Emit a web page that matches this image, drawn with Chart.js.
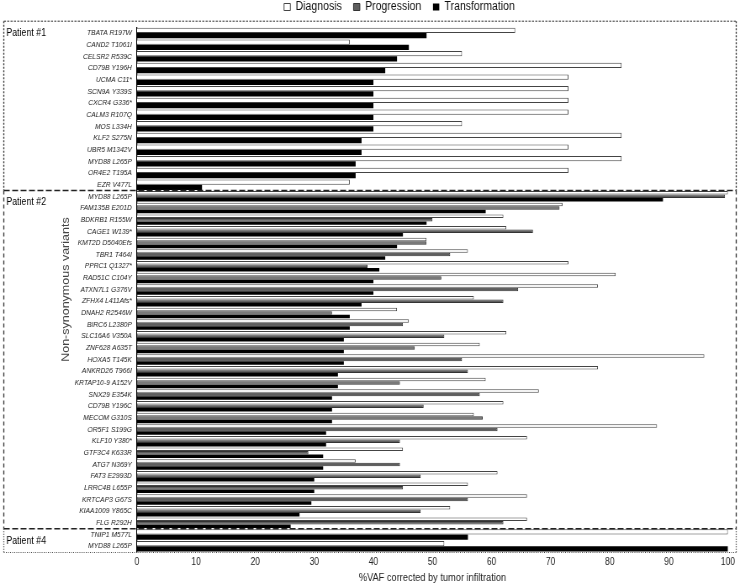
<!DOCTYPE html>
<html><head><meta charset="utf-8">
<script src="https://cdn.jsdelivr.net/npm/chart.js@4/dist/chart.umd.min.js"></script>
<style>html,body{margin:0;padding:0;background:#fff;overflow:hidden}#c{display:block;width:740px;height:588px}</style>
</head><body><canvas id="c" width="880" height="588" style="width:740px;height:588px"></canvas>
<script>
const variants = [
  'TBATA R197W','CAND2 T1061I','CELSR2 R539C','CD79B Y196H','UCMA C11*','SCN9A Y339S','CXCR4 G336*','CALM3 R107Q','MOS L334H','KLF2 S275N','UBR5 M1342V','MYD88 L265P','OR4E2 T195A','EZR V477L',
  'MYD88 L265P','FAM135B E201D','BDKRB1 R155W','CAGE1 W139*','KMT2D D5040Efs','TBR1 T464I','PPRC1 Q1327*','RAD51C C104Y','ATXN7L1 G376V','ZFHX4 L411Afs*','DNAH2 R2546W','BIRC6 L2380P','SLC16A6 V350A','ZNF628 A635T','HOXA5 T145K','ANKRD26 T966I','KRTAP10-9 A152V','SNX29 E354K','CD79B Y196C','MECOM G310S','OR5F1 S199G','KLF10 Y380*','GTF3C4 K633R','ATG7 N369Y','FAT3 E2993D','LRRC4B L655P','KRTCAP3 G67S','KIAA1009 Y865C','FLG R292H',
  'TNIP1 M577L','MYD88 L265P'
];
const patients = ['Patient #1','Patient #2','Patient #4'];
const patientFirstRow = [0, 14, 43];
const patientLastRow = [13, 42, 44];
const diagnosis = [
  64, 36, 55, 82, 73, 73, 73, 73, 55, 82, 73, 82, 73, 36,
  100, 72, 62, 62.5, 49, 56, 73, 81, 78, 57, 44, 46, 62.5, 58, 96, 78, 59, 68, 62, 57, 88, 66, 45, 37, 61, 56, 66, 53, 66,
  100, 52
];
const progression = [
  null, null, null, null, null, null, null, null, null, null, null, null, null, null,
  99.5, 71.5, 50, 67, 49, 53, 39, 51.5, 64.5, 62, 33, 45, 52, 47, 55, 56, 44.5, 58, 48.5, 58.5, 61, 44.5, 29, 44.5, 48, 45, 56, 48, 62,
  null, null
];
const transformation = [
  49, 46, 44, 42, 40, 40, 40, 40, 40, 38, 38, 37, 37, 11,
  89, 59, 49, 45, 44, 42, 41, 40, 40, 38, 36, 36, 35, 35, 35, 34, 34, 33, 33, 33, 32, 32, 31.5, 31.5, 30, 30, 29.5, 27.5, 26,
  56, 100
];
const xTicks = [0, 10, 20, 30, 40, 50, 60, 70, 80, 90, 100];

const SANS = "'Liberation Sans', Arial, sans-serif";

const legendShift = {
  id: 'legendShift',
  afterLayout(chart) {
    const lg = chart.legend;
    if (lg) { lg.left = 84; lg.right = 866; }
  }
};

const patientBoxes = {
  id: 'patientBoxes',
  afterDraw(chart) {
    const ctx = chart.ctx, y = chart.scales.y;
    const h = y.getPixelForValue(1) - y.getPixelForValue(0);
    const L = 4.5, R = 875.5;
    const tops = [], bots = [];
    for (let i = 0; i < patients.length; i++) {
      tops.push(i === 0 ? y.getPixelForValue(patientFirstRow[i]) - h / 2 - 6 : (y.getPixelForValue(patientFirstRow[i]) + y.getPixelForValue(patientFirstRow[i] - 1)) / 2);
      bots.push(i === patients.length - 1 ? y.getPixelForValue(patientLastRow[i]) + h / 2 + 0.5 : (y.getPixelForValue(patientLastRow[i]) + y.getPixelForValue(patientLastRow[i] + 1)) / 2);
    }
    ctx.save();
    const line = (x1, y1, x2, y2, dash, w, col) => {
      ctx.beginPath(); ctx.setLineDash(dash); ctx.lineWidth = w; ctx.strokeStyle = col;
      ctx.moveTo(x1, y1); ctx.lineTo(x2, y2); ctx.stroke();
    };
    line(L, tops[0], R, tops[0], [2.5, 1.5], 1, '#333');
    line(L, tops[0], L, bots[0], [2, 1.5], 1.3, '#333');
    line(R, tops[0], R, bots[0], [2, 1.5], 1.3, '#333');
    line(L, tops[1], L, bots[1], [4, 3], 1.3, '#333');
    line(R, tops[1], R, bots[1], [4, 3], 1.3, '#333');
    line(L, bots[0], R, bots[0], [7, 3], 1.5, '#222');
    line(L, bots[1], R, bots[1], [7, 3], 1.5, '#222');
    line(L, tops[2], L, bots[2], [1, 1.5], 1.3, '#444');
    line(R, tops[2], R, bots[2], [1, 1.5], 1.3, '#444');
    line(L, bots[2], R, bots[2], [1, 1.5], 1, '#444');
    ctx.setLineDash([]);
    ctx.fillStyle = '#000';
    ctx.font = '10.5px ' + SANS;
    ctx.textBaseline = 'middle';
    ctx.textAlign = 'left';
    for (let i = 0; i < patients.length; i++) ctx.fillText(patients[i], 7.5, tops[i] + 12);
    ctx.restore();
  }
};

new Chart(document.getElementById('c'), {
  type: 'bar',
  data: {
    labels: variants,
    datasets: [
      { label: 'Diagnosis', data: diagnosis, backgroundColor: '#ffffff', borderColor: '#444', borderWidth: 1, skipNull: true, categoryPercentage: 0.9, barPercentage: 1.0, xAxisID: 'x', yAxisID: 'y' },
      { label: 'Progression', data: progression, backgroundColor: '#5e5e5e', borderColor: '#333', borderWidth: 1, skipNull: true, categoryPercentage: 0.9, barPercentage: 1.0, xAxisID: 'x', yAxisID: 'y' },
      { label: 'Transformation', data: transformation, backgroundColor: '#000', borderColor: '#000', borderWidth: 0, skipNull: true, categoryPercentage: 0.9, barPercentage: 1.0, xAxisID: 'x', yAxisID: 'y' }
    ]
  },
  options: {
    indexAxis: 'y',
    responsive: false,
    devicePixelRatio: 1,
    animation: false,
    layout: { padding: { top: -13.25, left: 67, right: 14.3, bottom: 0 } },
    plugins: {
      tooltip: { enabled: false },
      legend: {
        position: 'top',
        labels: { boxWidth: 7.5, boxHeight: 7, padding: 14, color: '#111', font: { family: SANS, size: 12.5 } }
      }
    },
    scales: {
      x: {
        type: 'linear', position: 'bottom', min: 0, max: 100,
        afterBuildTicks: s => { s.ticks = xTicks.map(v => ({ value: v })); },
        ticks: { color: '#222', font: { family: SANS, size: 10 }, padding: 4 },
        grid: { display: false, drawTicks: false },
        border: { display: false },
        title: { display: true, text: '%VAF corrected by tumor infiltration', color: '#222', font: { family: SANS, size: 11 }, padding: { top: 2, bottom: 3 } },
        afterFit: s => { s.height = 36; }
      },
      xTop: {
        type: 'linear', position: 'top', display: true,
        ticks: { display: false }, grid: { display: false, drawTicks: false }, border: { display: false },
        afterFit: s => { s.height = 3.95; }
      },
      y: {
        type: 'category', position: 'left',
        grid: { display: false, drawTicks: false },
        border: { display: true, color: '#000', width: 1.3 },
        ticks: { color: '#222', font: { family: SANS, size: 8, style: 'italic' }, padding: 6, autoSkip: false },
        title: { display: true, text: 'Non-synonymous variants', color: '#444', font: { family: SANS, size: 12.5 }, padding: { top: 4, bottom: 0 } },
        afterFit: s => { s.width = 95.9; }
      }
    }
  },
  plugins: [legendShift, patientBoxes]
});
</script>
</body></html>
